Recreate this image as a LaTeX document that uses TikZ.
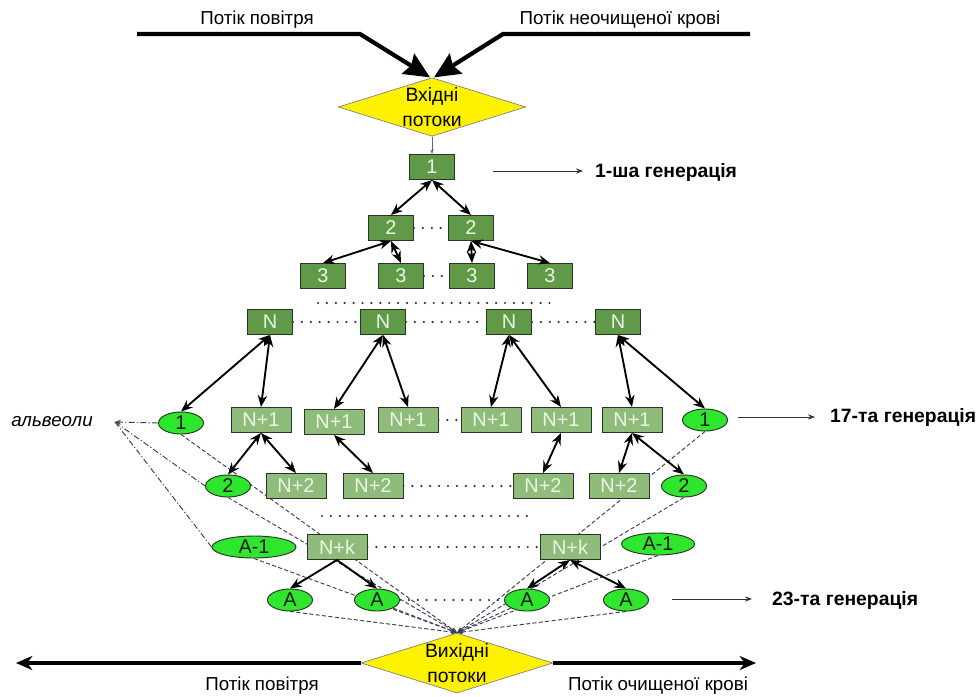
\documentclass[tikz,border=0pt]{standalone}
\usepackage{fontspec}
\setmainfont{Liberation Sans}
\usetikzlibrary{shapes.geometric,arrows.meta,backgrounds}
\definecolor{dkbox}{RGB}{96,154,72}
\definecolor{ltbox}{RGB}{143,188,122}
\definecolor{ellg}{RGB}{46,230,46}
\definecolor{boxline}{RGB}{40,55,35}
\definecolor{dashc}{RGB}{60,60,85}
\definecolor{boxtext}{RGB}{235,246,228}
\begin{document}
\begin{tikzpicture}[x=0.03cm,y=-0.03cm,
  dbox/.style={rectangle,draw=boxline,line width=0.8pt,fill=dkbox,text=boxtext,
    minimum width=1.35cm,minimum height=0.75cm,inner sep=0pt,font=\fontsize{17}{17}\selectfont},
  lbox/.style={dbox,fill=ltbox,minimum width=1.8cm},
  alv/.style={ellipse,draw=boxline,line width=0.8pt,fill=ellg,text=black!90,
    minimum width=1.35cm,minimum height=0.66cm,inner sep=0pt,font=\fontsize{17}{17}\selectfont},
  gate/.style={diamond,aspect=3.2,draw=gray,line width=0.6pt,fill=yellow,inner sep=0pt,
    minimum width=5.46cm,minimum height=1.71cm,align=center,font=\fontsize{16.5}{22}\selectfont},
  lbl/.style={font=\fontsize{16}{16}\selectfont,inner sep=0pt},
  gen/.style={font=\bfseries\fontsize{16.5}{16.5}\selectfont,inner sep=0pt,anchor=west},
  dbl/.style={line width=1.6pt,{Stealth[length=10pt,width=8pt]}-{Stealth[length=10pt,width=8pt]}},
  sgl/.style={line width=1.6pt,-{Stealth[length=10pt,width=8pt]}},
  bigarrow/.style={line width=3.6pt,-{Stealth[length=22pt,width=20pt,inset=3pt]}},
  botarrow/.style={line width=2.8pt,-{Stealth[length=14pt,width=12pt]}},
  thinarrow/.style={line width=0.8pt,draw=black!80,-{Stealth[length=6pt,width=4.5pt]}},
  dots/.style={line width=2.1pt,line cap=round,dash pattern=on 0pt off 7.6pt,draw=black!80},
  dsh/.style={line width=0.8pt,draw=dashc,dash pattern=on 3.5pt off 2pt,-{Stealth[length=5pt,width=4pt]}},
  dshdot/.style={line width=0.8pt,draw=dashc,dash pattern=on 5pt off 2pt on 1pt off 2pt}
]
\useasboundingbox (0,0) rectangle (979,696);

% top inputs
\node[lbl] (tlt) at (257,20) {Потік повітря};
\node[lbl] (trt) at (620,20) {Потік неочищеної крові};
\node[gate] (in) at (432,107) {Вхідні\\потоки};
\coordinate (tl) at (137,34);
\coordinate (tlb) at (360,34);
\coordinate (tr) at (750,34);
\coordinate (trb) at (503,34);
\draw[bigarrow] (tl) -- (tlb) -- ([xshift=-0.06cm]in.north);
\draw[bigarrow] (tr) -- (trb) -- ([xshift=0.06cm]in.north);

% tree
\node[dbox] (g1) at (432,167) {1};
\node[dbox] (g2a) at (391,228) {2};
\node[dbox] (g2b) at (471,228) {2};
\node[dbox] (g3a) at (323,276) {3};
\node[dbox] (g3b) at (401,276) {3};
\node[dbox] (g3c) at (472,276) {3};
\node[dbox] (g3d) at (550,276) {3};
\node[dbox] (n1) at (270,322) {N};
\node[dbox] (n2) at (383,322) {N};
\node[dbox] (n3) at (509,322) {N};
\node[dbox] (n4) at (618,322) {N};

\node[alv] (e1l) at (181,423) {1};
\node[lbox] (p1a) at (261,420) {N+1};
\node[lbox] (p1b) at (334,422) {N+1};
\node[lbox] (p1c) at (408,420) {N+1};
\node[lbox] (p1d) at (491,420) {N+1};
\node[lbox] (p1e) at (561,420) {N+1};
\node[lbox] (p1f) at (632,420) {N+1};
\node[alv] (e1r) at (705,420) {1};

\node[alv] (e2l) at (228,486) {2};
\node[lbox] (p2a) at (296,486) {N+2};
\node[lbox] (p2b) at (373,486) {N+2};
\node[lbox] (p2c) at (543,486) {N+2};
\node[lbox] (p2d) at (619,486) {N+2};
\node[alv] (e2r) at (684,486) {2};

\node[alv,minimum width=2.52cm] (eAl) at (254,547) {A-1};
\node[lbox] (pka) at (337,547) {N+k};
\node[lbox] (pkb) at (570,547) {N+k};
\node[alv,minimum width=2.19cm] (eAr) at (658,544) {A-1};

\node[alv] (a1) at (290,600) {A};
\node[alv] (a2) at (377,600) {A};
\node[alv] (a3) at (527,600) {A};
\node[alv] (a4) at (626,600) {A};

\node[gate,minimum width=5.4cm,minimum height=1.68cm] (out) at (457,663) {Вихідні\\потоки};

% thin input arrow
\draw[line width=0.5pt,draw=gray!80!black,-{Stealth[length=4pt,width=3pt]}] (in.south) -- (g1.north);

% double arrows
\draw[dbl] (g1.south) -- (g2a.north);
\draw[dbl] (g1.south) -- (g2b.north);
\draw[dbl] (g2a.south) -- (g3a.north);
\draw[dbl] (g2a.south) -- (g3b.north);
\draw[dbl] (g2b.south) -- (g3c.north);
\draw[dbl] (g2b.south) -- (g3d.north);
\draw[dbl] (n1.south) -- (e1l.north);
\draw[dbl] (n1.south) -- (p1a.north);
\draw[dbl] (n2.south) -- (p1b.north);
\draw[dbl] (n2.south) -- (p1c.north);
\draw[dbl] (n3.south) -- (p1d.north);
\draw[dbl] (n3.south) -- (p1e.north);
\draw[dbl] (n4.south) -- (p1f.north);
\draw[dbl] (n4.south) -- (e1r.north);
\draw[dbl] (p1a.south) -- (e2l.north);
\draw[dbl] (p1a.south) -- (p2a.north);
\draw[dbl] (p1b.south) -- (p2b.north);
\draw[dbl] (p1e.south) -- (p2c.north);
\draw[dbl] (p1f.south) -- (p2d.north);
\draw[dbl] (p1f.south) -- (e2r.north);
\draw[sgl] (pka.south) -- (a1.north);
\draw[sgl] (pka.south) -- (a2.north);
\draw[dbl] (pkb.south) -- (a3.north);
\draw[dbl] (pkb.south) -- (a4.north);

% generation labels
\coordinate (ga1) at (493,171); \coordinate (gb1) at (583,171);
\draw[thinarrow] (ga1) -- (gb1);
\node[gen] (lab1) at (595,172) {1-ша генерація};
\coordinate (ga2) at (738,417); \coordinate (gb2) at (815,417);
\draw[thinarrow] (ga2) -- (gb2);
\node[gen] (lab2) at (830,417) {17-та генерація};
\coordinate (ga3) at (672,599); \coordinate (gb3) at (752,599);
\draw[thinarrow] (ga3) -- (gb3);
\node[gen] (lab3) at (772,600) {23-та генерація};

% alveoli label
\node[lbl,font=\itshape\fontsize{16}{16}\selectfont] (alvl) at (52,422) {альвеоли};
\coordinate (alvp) at (115,422);

% bottom outputs
\coordinate (bl) at (16,663);
\coordinate (br) at (756,663);
\draw[botarrow] (out.west) -- (bl);
\draw[botarrow] (out.east) -- (br);
\node[lbl] (blt) at (262,686) {Потік повітря};
\node[lbl] (brt) at (658,686) {Потік очищеної крові};

\begin{pgfonlayer}{background}
  % dotted
  \draw[dots] (g2a.east) -- (g2b.west);
  \draw[dots] (g3b.east) -- (g3c.west);
  \coordinate (dl1) at (318,303); \coordinate (dl2) at (552,303);
  \draw[dots] (dl1) -- (dl2);
  \draw[dots] (n1.east) -- (n2.west);
  \draw[dots] (n2.east) -- (n3.west);
  \draw[dots] (n3.east) -- (n4.west);
  \draw[dots] (p1c.east) -- (p1d.west);
  \draw[dots] (p2b.east) -- (p2c.west);
  \coordinate (dl3) at (322,516); \coordinate (dl4) at (533,516);
  \draw[dots] (dl3) -- (dl4);
  \draw[dots] (pka.east) -- (pkb.west);
  \draw[dots] (a2.east) -- (a3.west);
  % alveoli dash-dot
  \draw[dshdot,-{Stealth[length=5pt,width=4pt]}] (e1l.west) -- (alvp);
  \draw[dshdot] (alvp) -- (e2l.west);
  \draw[dshdot] (alvp) -- (eAl.west);
  % dashed to exit
  \draw[dsh] (e1l.south) -- (out.north);
  \draw[dsh] (e2l.south) -- (out.north);
  \draw[dsh] (eAl.south) -- (out.north);
  \draw[dsh] (a1.south) -- (out.north);
  \draw[dsh] (a2.south east) -- (out.north);
  \draw[dsh] (e1r.south) -- (out.north);
  \draw[dsh] (e2r.south) -- (out.north);
  \draw[dsh] (eAr.south) -- (out.north);
  \draw[dsh] (a3.south west) -- (out.north);
  \draw[dsh] (a4.south) -- (out.north);
\end{pgfonlayer}
\end{tikzpicture}
\end{document}
